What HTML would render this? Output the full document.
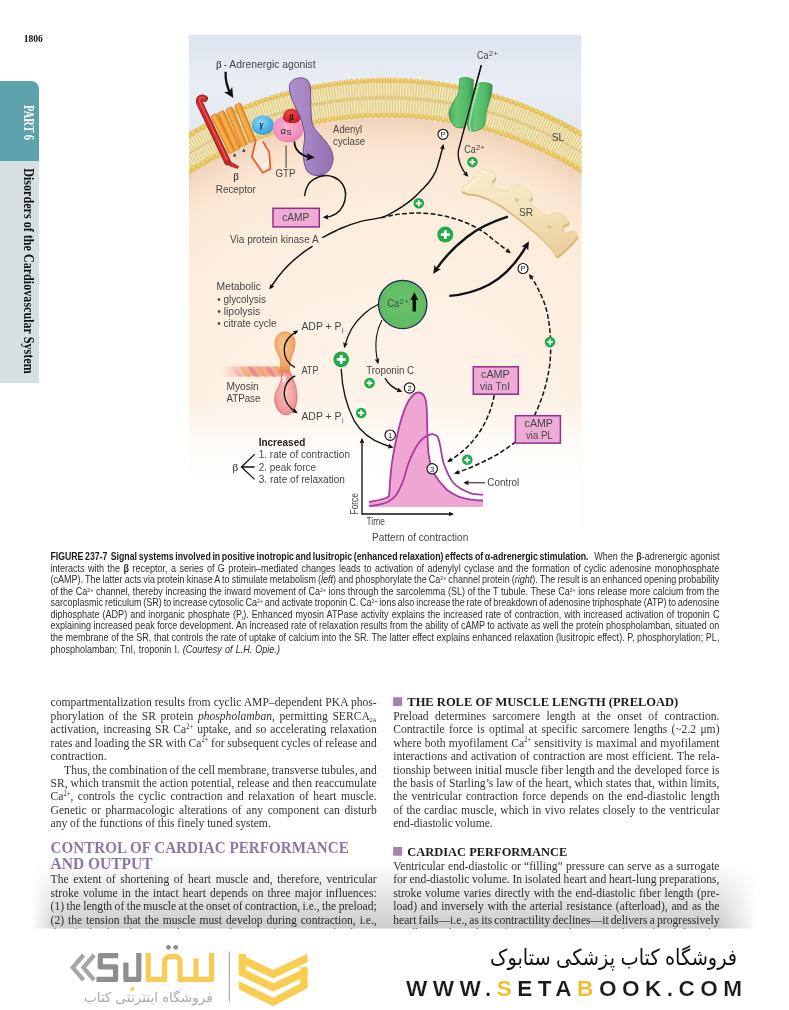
<!DOCTYPE html>
<html>
<head>
<meta charset="utf-8">
<title>Page 1806</title>
<style>
html,body{margin:0;padding:0;background:#fff;}
body{width:789px;height:1010px;position:relative;overflow:hidden;font-family:"Liberation Sans",sans-serif;}
.abs{position:absolute;}
svg{will-change:transform;}
svg text{white-space:pre;}
#pgnum{left:22px;top:32px;font:bold 9.5px "Liberation Serif",serif;color:#111;letter-spacing:.3px;}
#tabteal{left:0;top:81.3px;width:38.8px;height:81px;background:#5da2ac;border-top-right-radius:8px;}
#tabgray{left:0;top:161.3px;width:38.8px;height:221.7px;background:#d6e0e2;}
.vtxt{position:absolute;white-space:nowrap;transform-origin:0 0;transform:rotate(90deg);font-family:"Liberation Serif",serif;font-weight:bold;}
#part{left:34px;top:104px;color:#fff;font-size:11.5px;}
#disord{left:35px;top:167px;color:#111;font-size:12.5px;}
#fig{left:0;top:0;width:789px;height:560px;}
.cap{left:48px;width:694px;}
.ln{position:absolute;white-space:nowrap;transform-origin:0 0;}
</style>
</head>
<body>
<div id="tabteal" class="abs"></div>
<div id="tabgray" class="abs"></div>

<svg id="fig" class="abs" viewBox="0 0 789 560">
<defs>
<clipPath id="figclip"><rect x="189" y="35" width="392.5" height="500"/></clipPath>
<radialGradient id="cellg" gradientUnits="userSpaceOnUse" cx="386" cy="494.9" r="377">
<stop offset="0" stop-color="#fef4ea"/><stop offset="0.5" stop-color="#fdf1e5"/><stop offset="0.8" stop-color="#fcecdb"/><stop offset="0.9" stop-color="#fbe7d3"/><stop offset="0.95" stop-color="#f8e0ca"/><stop offset="1" stop-color="#efd3b9"/>
</radialGradient>
<linearGradient id="skyg" gradientUnits="userSpaceOnUse" x1="0" y1="35" x2="0" y2="140"><stop offset="0" stop-color="#dce4ef"/><stop offset="0.45" stop-color="#e9edf4"/><stop offset="1" stop-color="#e3e8f0"/></linearGradient>
<linearGradient id="fadeb" gradientUnits="userSpaceOnUse" x1="0" y1="400" x2="0" y2="480"><stop offset="0" stop-color="#fff" stop-opacity="0"/><stop offset="0.5" stop-color="#fff" stop-opacity="0.65"/><stop offset="1" stop-color="#fff" stop-opacity="1"/></linearGradient>
<marker id="ah" viewBox="0 0 10 10" refX="7" refY="5" markerWidth="5.8" markerHeight="5.4" orient="auto-start-reverse" markerUnits="userSpaceOnUse"><path d="M0 0.5L10 5L0 9.5L1.4 5z" fill="#111"/></marker>
<linearGradient id="purp" x1="0" y1="0" x2="1" y2="0"><stop offset="0" stop-color="#ae90cc"/><stop offset="0.5" stop-color="#a382c0"/><stop offset="1" stop-color="#9370b2"/></linearGradient>
<radialGradient id="myo1" cx="0.45" cy="0.35" r="0.65"><stop offset="0" stop-color="#f8c690"/><stop offset="0.7" stop-color="#f1a866"/><stop offset="1" stop-color="#e48e4a"/></radialGradient>
<radialGradient id="myo2" cx="0.5" cy="0.5" r="0.6"><stop offset="0" stop-color="#f8c2be"/><stop offset="0.7" stop-color="#f09c9a"/><stop offset="1" stop-color="#e27678"/></radialGradient>
<marker id="ahc" viewBox="0 0 10 10" refX="6" refY="5" markerWidth="10" markerHeight="10" orient="auto-start-reverse" markerUnits="userSpaceOnUse"><path d="M0 0.2L10 5L0 9.8L2.4 5z" fill="#111"/></marker>
<marker id="ahb" viewBox="0 0 10 10" refX="6" refY="5" markerWidth="8.5" markerHeight="8.5" orient="auto-start-reverse" markerUnits="userSpaceOnUse"><path d="M0 0.4L10 5L0 9.6L2.4 5z" fill="#111"/></marker>
<radialGradient id="gam" cx="0.4" cy="0.35" r="0.7"><stop offset="0" stop-color="#8ed6f7"/><stop offset="0.6" stop-color="#4fb4ea"/><stop offset="1" stop-color="#3a96d4"/></radialGradient>
<radialGradient id="alp" cx="0.45" cy="0.4" r="0.7"><stop offset="0" stop-color="#f9b3d4"/><stop offset="0.7" stop-color="#f08cbd"/><stop offset="1" stop-color="#e070a8"/></radialGradient>
<radialGradient id="bet" cx="0.4" cy="0.35" r="0.7"><stop offset="0" stop-color="#ee4a44"/><stop offset="1" stop-color="#c41d22"/></radialGradient>
<linearGradient id="cyl" x1="0" y1="0" x2="1" y2="0"><stop offset="0" stop-color="#e98a22"/><stop offset="0.35" stop-color="#fbb552"/><stop offset="0.75" stop-color="#f39a30"/><stop offset="1" stop-color="#d97a1c"/></linearGradient>
<linearGradient id="grn" x1="0" y1="0" x2="1" y2="0"><stop offset="0" stop-color="#44a659"/><stop offset="0.3" stop-color="#66c878"/><stop offset="0.75" stop-color="#4fb864"/><stop offset="1" stop-color="#35934b"/></linearGradient>
<linearGradient id="srg" x1="0.3" y1="0" x2="0.55" y2="1"><stop offset="0" stop-color="#f8ebcb"/><stop offset="0.55" stop-color="#f4e2b9"/><stop offset="1" stop-color="#e9cf9c"/></linearGradient>
<radialGradient id="cag" cx="0.5" cy="0.45" r="0.6"><stop offset="0" stop-color="#6cc46c"/><stop offset="1" stop-color="#5cb860"/></radialGradient>
<linearGradient id="ropef" gradientUnits="userSpaceOnUse" x1="222" y1="0" x2="250" y2="0"><stop offset="0" stop-color="#fff" stop-opacity="1"/><stop offset="1" stop-color="#fff" stop-opacity="0"/></linearGradient>
<mask id="ropem"><rect x="200" y="350" width="100" height="40" fill="#fff"/><rect x="200" y="350" width="50" height="40" fill="url(#ropemg)"/></mask>
<linearGradient id="ropemg" gradientUnits="userSpaceOnUse" x1="222" y1="0" x2="250" y2="0"><stop offset="0" stop-color="#000"/><stop offset="1" stop-color="#fff"/></linearGradient>
</defs>
<g clip-path="url(#figclip)">
<rect x="189" y="35" width="392.5" height="160" fill="url(#skyg)"/>
<circle cx="386.0" cy="494.9" r="377.0" fill="url(#cellg)"/>
<path d="M175 162.28A377.0 377.0 0 0 1 595 160.94" fill="none" stroke="#e2ce8b" stroke-width="37"/>
<path d="M175 153.78A377.0 377.0 0 0 1 595 152.44" fill="none" stroke="#f5ebc2" stroke-width="13" stroke-dasharray="1.35 1.45"/>
<path d="M175 170.78A377.0 377.0 0 0 1 595 169.44" fill="none" stroke="#f5ebc2" stroke-width="13" stroke-dasharray="1.35 1.45" stroke-dashoffset="1.3"/>
<path d="M175 162.28A377.0 377.0 0 0 1 595 160.94" fill="none" stroke="#dfc982" stroke-width="1.6"/>
<path d="M175 144.68A377.0 377.0 0 0 1 595 143.34" fill="none" stroke="#e6bf56" stroke-width="5.2" stroke-linecap="round" stroke-dasharray="0.01 5.4"/>
<path d="M175 143.98A377.0 377.0 0 0 1 595 142.64" fill="none" stroke="#f3d982" stroke-width="2.3" stroke-linecap="round" stroke-dasharray="0.01 5.4"/>
<path d="M175 179.88A377.0 377.0 0 0 1 595 178.54" fill="none" stroke="#e6bf56" stroke-width="5.2" stroke-linecap="round" stroke-dasharray="0.01 5.4"/>
<path d="M175 179.18A377.0 377.0 0 0 1 595 177.84" fill="none" stroke="#f3d982" stroke-width="2.3" stroke-linecap="round" stroke-dasharray="0.01 5.4"/>
<rect x="189" y="395" width="392.5" height="141" fill="url(#fadeb)"/>
<path d="M233 156.5l1.6-3.2 1.8 3.2z M242.2 151.8l1.6-3.2 1.8 3.2z" fill="#333"/>
<path d="M256 140L251.9 156.7L262.8 172.7L270.4 168.9L269.2 152.1L262.8 141.5" fill="#fff" fill-opacity="0.35" stroke="#e8602c" stroke-width="1.8" stroke-linejoin="round"/>
<g transform="translate(213.6 114.6) rotate(-26.4)"><rect x="-3.3" y="0" width="6.6" height="42.2" rx="1.6" fill="url(#cyl)" stroke="#c9701a" stroke-width="0.5"/></g>
<g transform="translate(220.7 111.6) rotate(-24.0)"><rect x="-3.3" y="0" width="6.6" height="41.6" rx="1.6" fill="url(#cyl)" stroke="#c9701a" stroke-width="0.5"/></g>
<g transform="translate(228.8 107.8) rotate(-22.4)"><rect x="-3.3" y="0" width="6.6" height="40.9" rx="1.6" fill="url(#cyl)" stroke="#c9701a" stroke-width="0.5"/></g>
<g transform="translate(237.4 104.0) rotate(-22.4)"><rect x="-3.3" y="0" width="6.6" height="40.4" rx="1.6" fill="url(#cyl)" stroke="#c9701a" stroke-width="0.5"/></g>
<path d="M204.6 98.6C200.6 96.6 198.4 99 199.6 103L227.6 162" fill="none" stroke="#8f1a1e" stroke-width="6.6" stroke-linecap="round"/>
<path d="M204.6 98.6C200.6 96.6 198.4 99 199.6 103L227.6 162" fill="none" stroke="#cc2a2e" stroke-width="5.2" stroke-linecap="round"/>
<path d="M204 97.8C200.6 96.3 198.8 98.4 199.8 102L227 159.6" fill="none" stroke="#e4514f" stroke-width="1.6" stroke-linecap="round"/>
<path d="M228 160.5L238.8 166.6L237.6 168.4L229.5 165.8z" fill="#cc2a2e" stroke="#8f1a1e" stroke-width="0.6"/>
<ellipse cx="262.8" cy="125.2" rx="11" ry="9.9" fill="url(#gam)"/>
<path d="M273 128C273 120 281 115.5 289 116.8C297 117.5 303.5 122 303 130C302.5 138 295 142.8 287 142.2C279 141.8 273 136 273 128z" fill="url(#alp)"/>
<path d="M283 117.5C283 112 287.5 108.6 292 108.8C297 109 301 112.5 300.8 117.5C300.5 121.5 297 123.4 292.5 123C287.5 123 283 121.5 283 117.5z" fill="url(#bet)"/>
<path d="M300.1 77.9C306 77.5 310.3 81 310.5 88C310.8 98 310.6 110 311.5 120.2C312.5 127 315.5 130 319.1 133.9C324 139.5 329.5 145 331.3 150.6C333.5 156 333.6 159 332.5 162.8C331 168.5 329 171.5 325.2 173.4C321 175.5 317 176 313 174.9C308.5 173.5 306.5 171 305.4 167.3C303.8 162 303 157 303.1 152.1C303.2 146 305 141 304.6 135.4C304.2 129 302.5 124 300.8 118.7C298.5 112 294.5 106.5 292.5 100.4C290.5 95 289.2 91 289.4 86.7C289.6 81.5 294 78 300.1 77.9z" fill="url(#purp)" stroke="#6b3f92" stroke-width="0.9"/>
<path d="M294.4 141.5C294.5 150 301 156.5 311.5 157.2" fill="none" stroke="#111" stroke-width="1.8" marker-end="url(#ahb)"/>
<path d="M286.1 145.3V168.1" stroke="#222" stroke-width="0.9"/>
<path d="M225.6 71.8C225.2 80 227.2 88 231.2 94.6" fill="none" stroke="#111" stroke-width="2.3" marker-end="url(#ahc)"/>
<path d="M304.5 196.1C305.5 188 309 182 313.6 179.3C320 175.3 327 174.5 333.5 177C341 180 345.8 187 345.6 194.5C345.4 203 341.5 210 335.9 213.8C332.5 216 328.5 217 324.5 217.3" fill="none" stroke="#111" stroke-width="1.45" marker-end="url(#ah)"/>
<path d="M322.3 237.7C325.4 236.2 334.2 231.2 340.6 228.5C347.0 225.8 354.8 223.1 360.9 221.4C367.0 219.7 372.7 219.4 377.1 218.4C381.5 217.4 383.1 217.3 387.2 215.4C391.2 213.5 397.0 210.1 401.4 207.2C405.8 204.3 410.2 201.0 413.6 198.1C417.0 195.2 419.1 192.8 421.7 190.0C424.3 187.2 427.2 184.6 429.5 181.5C431.8 178.4 434.0 175.0 435.6 171.5C437.2 168.0 437.9 164.8 439.2 160.5C440.5 156.2 442.5 148.0 443.2 145.5" fill="none" stroke="#111" stroke-width="1.45" marker-end="url(#ah)"/>
<path d="M312.6 246.2C300 254 288 264 278 277C275 281 272.5 285 270.2 288.2" fill="none" stroke="#111" stroke-width="1.45" marker-end="url(#ah)"/>
<path d="M381.2 217.8C397 213.5 413 212.3 428.7 213.5C443 215 456 218.5 466.7 223C477 227.5 486 233 492.1 238.8C499 244 505 249 509.6 252.2" fill="none" stroke="#111" stroke-width="1.5" stroke-dasharray="4.8 2.3" marker-end="url(#ah)"/>
<path d="M481.3 65.2L458.5 150C457.8 155 458.5 160 460.5 165C462 169 464.5 172.5 467.2 175.6" fill="none" stroke="#111" stroke-width="1.35" marker-end="url(#ah)"/>
<path d="M507.9 216.6C491 222 477 229 466.7 237.2C454 247 443 259 435 271.2" fill="none" stroke="#111" stroke-width="2.4" marker-end="url(#ahb)"/>
<path d="M449.3 295.9C463 295 477 291 488.9 284.8C505 276 518 261 527.3 244.2" fill="none" stroke="#111" stroke-width="2.4" marker-end="url(#ahb)"/>
<path d="M534.4 415.7C541.5 401 547.5 383 550 362.7C551.5 345 550.5 330 547.6 314.8C545.5 305 542.5 297.5 539 290.8C536 284.5 533 279.5 529.8 275.2" fill="none" stroke="#111" stroke-width="1.5" stroke-dasharray="4.8 2.3" marker-end="url(#ah)"/>
<path d="M494.3 395.2C491 412 484 428 472 442C465 450 456.5 456.5 448.6 461.2" fill="none" stroke="#111" stroke-width="1.5" stroke-dasharray="4.8 2.3" marker-end="url(#ah)"/>
<path d="M516 441.6C509.5 446.5 503 451 496.4 455C483 462.5 469 468.5 455.6 473.2" fill="none" stroke="#111" stroke-width="1.5" stroke-dasharray="4.8 2.3" marker-end="url(#ah)"/>
<path d="M379 304C369 308.5 358 318 351.5 329C348.5 334.5 346 341 344.6 346.6" fill="none" stroke="#111" stroke-width="1.35" marker-end="url(#ah)"/>
<path d="M341.2 368.8C342 388 346 405 354.2 420.8C362 434 376 443 392 447" fill="none" stroke="#111" stroke-width="1.35" marker-end="url(#ah)"/>
<path d="M382 320C378.8 326 377.2 331 376.4 337C375.4 346 376 355 377.9 362.6" fill="none" stroke="#111" stroke-width="1.1" marker-end="url(#ah)"/>
<path d="M385 378.1C388 383.5 393.5 388.5 400.8 391.2" fill="none" stroke="#111" stroke-width="1.35" marker-end="url(#ah)"/>
<path d="M485.1 482.8H465" fill="none" stroke="#111" stroke-width="1" marker-end="url(#ah)"/>
<path d="M459.8 78.5C464 76.5 470 77.5 473.7 79.8C473 92 471.5 104 469.5 116C468.5 122 466 126 463 127.6C458 128.6 454 127 452.2 123.5C449.5 119 448.5 116 449 112.1C450 106 455 100 457.9 94.4C459.5 89 459.3 84 459.8 78.5z" fill="url(#grn)" stroke="#2c8040" stroke-width="0.6"/>
<path d="M478.2 83.6C482 81.8 488.5 82.5 492.1 84.9C492.5 90 491 96 489.6 100.7C488 106 486.5 111 485.8 115.9C485.5 121 485 124.5 483.2 127.3C480 130.5 475 131.6 470.6 131.1C468 130 467.5 127 468 123C470 110 473 97 478.2 83.6z" fill="url(#grn)" stroke="#2c8040" stroke-width="0.6"/>
<path d="M478.6 84.5C474.5 97 471.5 110 469.6 123C469.2 126 469.6 128.6 470.8 130.4" fill="none" stroke="#9be0a6" stroke-width="1.8" stroke-linecap="round"/>
<path d="M481.3 65.2L464 129.5" fill="none" stroke="#111" stroke-width="1.2"/>
<path d="M461.6 188.8C462.5 185.7 465.0 186.2 469.8 181.4C474.6 176.6 475.5 173.8 479.7 170.7C483.9 167.6 481.3 168.6 485.5 169.9C489.7 171.2 493.6 172.2 495.4 175.7C497.2 179.2 491.2 179.4 492.1 183.1C493.0 186.8 494.5 187.7 498.7 189.7C502.9 191.7 504.0 191.4 507.7 190.5C511.4 189.6 509.8 187.9 512.7 186.4C515.6 184.9 514.5 183.8 518.4 184.7C522.3 185.6 523.8 186.6 527.5 189.7C531.2 192.8 531.7 193.1 532.4 196.2C533.1 199.3 528.7 197.7 530.0 201.2C531.3 204.7 532.8 205.7 537.4 209.4C542.0 213.1 542.5 214.3 547.3 215.2C552.1 216.1 551.6 212.9 555.5 212.7C559.4 212.5 558.6 212.0 562.1 214.4C565.6 216.8 568.3 218.7 568.7 221.8C569.1 224.9 564.8 223.0 563.7 225.9C562.6 228.8 562.2 231.2 564.6 232.5C567.0 233.8 569.5 230.4 572.8 230.8C576.1 231.2 576.2 231.9 576.9 234.1C577.6 236.3 579.7 233.8 575.3 239.1C570.9 244.4 565.7 249.7 560.4 253.9C555.1 258.1 557.7 255.8 555.5 254.7C553.3 253.6 556.1 254.4 552.2 249.8C548.3 245.2 547.7 244.2 540.7 237.4C533.7 230.6 533.7 230.9 525.8 224.3C517.9 217.7 518.9 218.4 511.0 212.7C503.1 207.0 504.5 207.4 496.2 202.8C487.9 198.2 487.6 198.0 479.7 195.4C471.8 192.8 471.3 194.7 466.5 192.9C461.7 191.1 460.7 191.9 461.6 188.8z" transform="translate(0.6 2.2)" fill="#d4b47a"/>
<path d="M461.6 188.8C462.5 185.7 465.0 186.2 469.8 181.4C474.6 176.6 475.5 173.8 479.7 170.7C483.9 167.6 481.3 168.6 485.5 169.9C489.7 171.2 493.6 172.2 495.4 175.7C497.2 179.2 491.2 179.4 492.1 183.1C493.0 186.8 494.5 187.7 498.7 189.7C502.9 191.7 504.0 191.4 507.7 190.5C511.4 189.6 509.8 187.9 512.7 186.4C515.6 184.9 514.5 183.8 518.4 184.7C522.3 185.6 523.8 186.6 527.5 189.7C531.2 192.8 531.7 193.1 532.4 196.2C533.1 199.3 528.7 197.7 530.0 201.2C531.3 204.7 532.8 205.7 537.4 209.4C542.0 213.1 542.5 214.3 547.3 215.2C552.1 216.1 551.6 212.9 555.5 212.7C559.4 212.5 558.6 212.0 562.1 214.4C565.6 216.8 568.3 218.7 568.7 221.8C569.1 224.9 564.8 223.0 563.7 225.9C562.6 228.8 562.2 231.2 564.6 232.5C567.0 233.8 569.5 230.4 572.8 230.8C576.1 231.2 576.2 231.9 576.9 234.1C577.6 236.3 579.7 233.8 575.3 239.1C570.9 244.4 565.7 249.7 560.4 253.9C555.1 258.1 557.7 255.8 555.5 254.7C553.3 253.6 556.1 254.4 552.2 249.8C548.3 245.2 547.7 244.2 540.7 237.4C533.7 230.6 533.7 230.9 525.8 224.3C517.9 217.7 518.9 218.4 511.0 212.7C503.1 207.0 504.5 207.4 496.2 202.8C487.9 198.2 487.6 198.0 479.7 195.4C471.8 192.8 471.3 194.7 466.5 192.9C461.7 191.1 460.7 191.9 461.6 188.8z" fill="url(#srg)" stroke="#e4cd9c" stroke-width="0.6"/>
<path d="M514.6 197.8L519.6 199.6L516.4 202.4z M547.2 225.2L552.4 226.4L549.6 229.4z" fill="#dcc18c"/>
<path d="M466 189.5C472 184 478 177 482.5 172.8C486 171 490 172.5 492.5 176" fill="none" stroke="#fbf1d8" stroke-width="1.6" stroke-linecap="round"/>
<circle cx="418.8" cy="203.3" r="5.3" fill="#22ab4a"/><path d="M415.83 203.3H421.77M418.8 200.33V206.27" stroke="#fff" stroke-width="1.80"/>
<circle cx="445.3" cy="234.6" r="8" fill="#22ab4a"/><path d="M440.82 234.6H449.78M445.3 230.12V239.08" stroke="#fff" stroke-width="2.72"/>
<circle cx="472.4" cy="162.1" r="5.3" fill="#22ab4a"/><path d="M469.43 162.1H475.37M472.4 159.13V165.07" stroke="#fff" stroke-width="1.80"/>
<circle cx="341.2" cy="359.3" r="7.9" fill="#22ab4a"/><path d="M336.78 359.3H345.62M341.2 354.88V363.72" stroke="#fff" stroke-width="2.69"/>
<circle cx="361.2" cy="413" r="5.3" fill="#22ab4a"/><path d="M358.23 413H364.17M361.2 410.03V415.97" stroke="#fff" stroke-width="1.80"/>
<circle cx="369.5" cy="383.1" r="5.3" fill="#22ab4a"/><path d="M366.53 383.1H372.47M369.5 380.13V386.07" stroke="#fff" stroke-width="1.80"/>
<circle cx="550" cy="342.1" r="5.3" fill="#22ab4a"/><path d="M547.03 342.1H552.97M550 339.13V345.07" stroke="#fff" stroke-width="1.80"/>
<circle cx="467.3" cy="459.8" r="5.3" fill="#22ab4a"/><path d="M464.33 459.8H470.27M467.3 456.83V462.77" stroke="#fff" stroke-width="1.80"/>
<circle cx="443" cy="134.3" r="5.0" fill="#fff" stroke="#111" stroke-width="1.15"/><text x="443" y="137.0" font-family="Liberation Sans,sans-serif" font-size="7.6" text-anchor="middle" fill="#222">P</text>
<circle cx="523" cy="268.5" r="5.0" fill="#fff" stroke="#111" stroke-width="1.15"/><text x="523" y="271.2" font-family="Liberation Sans,sans-serif" font-size="7.6" text-anchor="middle" fill="#222">P</text>
<circle cx="402.7" cy="304.5" r="24.2" fill="url(#cag)" stroke="#1c2c5c" stroke-width="1.3"/>
<path d="M414.3 311.4V298.5" stroke="#111" stroke-width="3.5"/><path d="M410.4 300L414.3 292L418.2 300z" fill="#111"/>
<rect x="273" y="208.3" width="46.3" height="18.6" fill="#eeabd6" stroke="#922c8e" stroke-width="1.5"/>
<rect x="473.3" y="366.8" width="45" height="27.4" fill="#eeabd6" stroke="#922c8e" stroke-width="1.5"/>
<rect x="515.4" y="415.7" width="45" height="27.4" fill="#eeabd6" stroke="#922c8e" stroke-width="1.5"/>
<path d="M369.0 502.0C370.7 501.7 375.9 500.8 379.0 500.0C382.1 499.2 386.0 498.0 387.7 497.2C389.4 496.4 388.9 495.5 389.1 495.1C389.6 489.8 390.3 474.3 391.9 463.2C393.5 452.1 396.5 438.0 398.8 428.5C401.1 419.0 403.5 411.9 405.8 406.4C408.1 400.9 410.5 397.6 412.7 395.3C414.9 393.0 416.9 392.3 418.9 392.5C420.9 392.7 423.2 394.1 424.5 396.6C425.8 399.1 426.1 401.2 426.6 407.7C427.1 414.2 427.1 427.6 427.5 435.5C427.9 443.4 427.9 449.1 428.7 454.9C429.5 460.7 430.8 466.4 432.1 470.2C433.5 474.0 435.4 475.5 436.8 477.6C438.2 479.7 438.7 480.6 440.4 482.6C442.1 484.6 444.8 487.9 446.9 489.7C449.0 491.5 450.7 492.4 453.0 493.7C455.3 495.0 457.8 496.3 460.8 497.3C463.8 498.3 467.3 499.1 471.0 499.6C474.7 500.1 481.0 500.4 483.0 500.5V506.9H369z" fill="#f0a6d3"/>
<path d="M369.0 502.0C370.7 501.7 375.9 500.8 379.0 500.0C382.1 499.2 386.0 498.0 387.7 497.2C389.4 496.4 388.9 495.5 389.1 495.1C389.6 489.8 390.3 474.3 391.9 463.2C393.5 452.1 396.5 438.0 398.8 428.5C401.1 419.0 403.5 411.9 405.8 406.4C408.1 400.9 410.5 397.6 412.7 395.3C414.9 393.0 416.9 392.3 418.9 392.5C420.9 392.7 423.2 394.1 424.5 396.6C425.8 399.1 426.1 401.2 426.6 407.7C427.1 414.2 427.1 427.6 427.5 435.5C427.9 443.4 427.9 449.1 428.7 454.9C429.5 460.7 430.8 466.4 432.1 470.2C433.5 474.0 435.4 475.5 436.8 477.6C438.2 479.7 438.7 480.6 440.4 482.6C442.1 484.6 444.8 487.9 446.9 489.7C449.0 491.5 450.7 492.4 453.0 493.7C455.3 495.0 457.8 496.3 460.8 497.3C463.8 498.3 467.3 499.1 471.0 499.6C474.7 500.1 481.0 500.4 483.0 500.5" fill="none" stroke="#a83aa0" stroke-width="1.8" stroke-linejoin="round"/>
<path d="M369.0 506.2C370.7 505.9 375.9 505.3 379.0 504.6C382.1 503.9 384.8 503.6 387.7 502.0C390.6 500.4 393.6 498.6 396.1 495.1C398.7 491.6 400.9 486.5 403.0 481.2C405.1 475.9 406.4 468.7 408.5 463.2C410.6 457.7 413.2 452.1 415.5 448.0C417.8 443.9 420.1 441.1 422.4 438.9C424.7 436.7 427.4 435.6 429.3 434.8C431.2 434.1 432.1 434.0 433.5 434.4C434.9 434.8 436.6 434.9 437.7 436.9C438.8 438.9 439.5 442.5 440.4 446.6C441.3 450.8 441.8 457.0 443.2 461.8C444.6 466.6 447.1 472.2 448.8 475.7C450.5 479.2 451.6 480.9 453.5 483.0C455.4 485.1 457.1 486.5 460.0 488.2C462.9 489.9 467.2 492.2 471.0 493.3C474.8 494.4 481.0 494.6 483.0 494.8" fill="none" stroke="#a83aa0" stroke-width="1.8"/>
<path d="M362 514H452.5" fill="none" stroke="#111" stroke-width="1.35" marker-end="url(#ah)"/><path d="M362 514.5V439.5" fill="none" stroke="#111" stroke-width="1.35" marker-end="url(#ah)"/>
<circle cx="409.5" cy="388" r="5.2" fill="#fff" stroke="#111" stroke-width="1.15"/><text x="409.5" y="390.7" font-family="Liberation Sans,sans-serif" font-size="7.6" text-anchor="middle" fill="#222">2</text>
<circle cx="390.2" cy="435.2" r="5.2" fill="#fff" stroke="#111" stroke-width="1.15"/><text x="390.2" y="437.9" font-family="Liberation Sans,sans-serif" font-size="7.6" text-anchor="middle" fill="#222">1</text>
<circle cx="432.2" cy="468.8" r="5.2" fill="#fff" stroke="#111" stroke-width="1.15"/><text x="432.2" y="471.5" font-family="Liberation Sans,sans-serif" font-size="7.6" text-anchor="middle" fill="#222">3</text>
<g mask="url(#ropem)">
<path d="M222 366.4H283V376.6H222z" fill="#f3ae94"/>
<path d="M222.0 366.2C226.5 366 230.0 370 233.0 376.8C228.5 377 225.0 373.5 222.0 366.2z" fill="#f2a46c"/>
<path d="M230.6 366.2C235.1 366 238.6 370 241.6 376.8C237.1 377 233.6 373.5 230.6 366.2z" fill="#ea8a92"/>
<path d="M239.2 366.2C243.7 366 247.2 370 250.2 376.8C245.7 377 242.2 373.5 239.2 366.2z" fill="#f2a46c"/>
<path d="M247.8 366.2C252.3 366 255.8 370 258.8 376.8C254.3 377 250.8 373.5 247.8 366.2z" fill="#ea8a92"/>
<path d="M256.4 366.2C260.9 366 264.4 370 267.4 376.8C262.9 377 259.4 373.5 256.4 366.2z" fill="#f2a46c"/>
<path d="M265.0 366.2C269.5 366 273.0 370 276.0 376.8C271.5 377 268.0 373.5 265.0 366.2z" fill="#ea8a92"/>
<path d="M273.6 366.2C278.1 366 281.6 370 284.6 376.8C280.1 377 276.6 373.5 273.6 366.2z" fill="#f2a46c"/>
<path d="M282.2 366.2C286.7 366 290.2 370 293.2 376.8C288.7 377 285.2 373.5 282.2 366.2z" fill="#ea8a92"/>
<path d="M222 366.4H283" stroke="#f8c8b0" stroke-width="1"/>
</g>
<path d="M285.2 332C291.5 332 295.5 337 295 344C294.6 350 292 355 290.5 360C289.5 364.5 289 368 289.5 371.5L279 372.5C281 368 281.5 363 280 358C277 352 274.8 348 275 343C275.3 336.5 279.5 332 285.2 332z" fill="url(#myo1)" stroke="#de8a44" stroke-width="0.8"/>
<path d="M281.5 371C286 370.5 290 373 292.5 378C295.5 384 297.2 391 297 398C296.8 407 292.5 414.5 286.5 414.8C280.5 415 275.5 408.5 274.8 401C274.2 394.5 277 389.5 279.5 384.5C281.5 380.5 281.8 376 281.5 371z" fill="url(#myo2)" stroke="#dc686a" stroke-width="0.8"/>
<ellipse cx="284" cy="379" rx="2" ry="3.4" fill="#fde4e0"/>
<path d="M294.9 367.4C288 364 284 357 284.2 349.1C284.5 341 290 335 297 331.3" fill="none" stroke="#111" stroke-width="1.35" marker-end="url(#ah)"/>
<path d="M295.3 375.9C288 379 284 386 284.2 393.7C284.5 401.5 289.5 408 296.3 412.3" fill="none" stroke="#111" stroke-width="1.35" marker-end="url(#ah)"/>
<path d="M254.6 454.4L241.4 467L254.6 479.4M241.4 467H254.6" fill="none" stroke="#111" stroke-width="1.3"/>
</g>
<text x="216" y="67.8" font-family="Liberation Serif,serif" font-size="11" fill="#222">β</text>
<text x="223.6" y="67.6" font-family="Liberation Sans,sans-serif" font-size="10.2" fill="#464646" textLength="92" lengthAdjust="spacingAndGlyphs" >- Adrenergic agonist</text>
<text x="333.1" y="133.1" font-family="Liberation Sans,sans-serif" font-size="10.2" fill="#464646" textLength="29" lengthAdjust="spacingAndGlyphs" >Adenyl</text>
<text x="333.1" y="145.3" font-family="Liberation Sans,sans-serif" font-size="10.2" fill="#464646" textLength="32" lengthAdjust="spacingAndGlyphs" >cyclase</text>
<text x="275.4" y="177.2" font-family="Liberation Sans,sans-serif" font-size="10.2" fill="#464646" textLength="20" lengthAdjust="spacingAndGlyphs" >GTP</text>
<text x="233.3" y="179.5" font-family="Liberation Serif,serif" font-size="11" fill="#222">β</text>
<text x="215.8" y="192.5" font-family="Liberation Sans,sans-serif" font-size="10.2" fill="#464646" textLength="40" lengthAdjust="spacingAndGlyphs" >Receptor</text>
<text x="282.2" y="220.9" font-family="Liberation Sans,sans-serif" font-size="10.2" fill="#464646" textLength="27" lengthAdjust="spacingAndGlyphs" >cAMP</text>
<text x="230" y="242.8" font-family="Liberation Sans,sans-serif" font-size="10.2" fill="#464646" textLength="88.7" lengthAdjust="spacingAndGlyphs" >Via protein kinase A</text>
<text x="477.1" y="58.9" font-family="Liberation Sans,sans-serif" font-size="10.2" fill="#464646" textLength="11.5" lengthAdjust="spacingAndGlyphs" >Ca</text>
<text x="488.8" y="55.8" font-family="Liberation Sans,sans-serif" font-size="7.8" fill="#444">2+</text>
<text x="464.2" y="153.3" font-family="Liberation Sans,sans-serif" font-size="10.2" fill="#464646" textLength="11.5" lengthAdjust="spacingAndGlyphs" >Ca</text>
<text x="475.9" y="150.2" font-family="Liberation Sans,sans-serif" font-size="7.8" fill="#444">2+</text>
<text x="519" y="216" font-family="Liberation Sans,sans-serif" font-size="10.2" fill="#464646" textLength="14" lengthAdjust="spacingAndGlyphs" >SR</text>
<text x="551.7" y="140.6" font-family="Liberation Sans,sans-serif" font-size="10.2" fill="#464646" textLength="12.5" lengthAdjust="spacingAndGlyphs" >SL</text>
<text x="387.3" y="306.6" font-family="Liberation Sans,sans-serif" font-size="10.2" fill="#464646" textLength="12" lengthAdjust="spacingAndGlyphs" fill="#2a5a36">Ca</text>
<text x="399.6" y="303.6" font-family="Liberation Sans,sans-serif" font-size="7.8" fill="#2a5a36">2+</text>
<text x="216.6" y="290.3" font-family="Liberation Sans,sans-serif" font-size="10.2" fill="#464646" textLength="44.3" lengthAdjust="spacingAndGlyphs" >Metabolic</text>
<text x="217.2" y="302.5" font-family="Liberation Sans,sans-serif" font-size="10.2" fill="#464646" textLength="48.7" lengthAdjust="spacingAndGlyphs" >• glycolysis</text>
<text x="217.2" y="315" font-family="Liberation Sans,sans-serif" font-size="10.2" fill="#464646" textLength="43" lengthAdjust="spacingAndGlyphs" >• lipolysis</text>
<text x="217.2" y="327.4" font-family="Liberation Sans,sans-serif" font-size="10.2" fill="#464646" textLength="59.5" lengthAdjust="spacingAndGlyphs" >• citrate cycle</text>
<text x="301.4" y="330.2" font-family="Liberation Sans,sans-serif" font-size="10.2" fill="#464646" textLength="40.2" lengthAdjust="spacingAndGlyphs" >ADP + P</text>
<text x="342" y="332.6" font-family="Liberation Sans,sans-serif" font-size="7" fill="#444">i</text>
<text x="301.4" y="373.9" font-family="Liberation Sans,sans-serif" font-size="10.2" fill="#464646" textLength="17.3" lengthAdjust="spacingAndGlyphs" >ATP</text>
<text x="301.4" y="420.1" font-family="Liberation Sans,sans-serif" font-size="10.2" fill="#464646" textLength="40.2" lengthAdjust="spacingAndGlyphs" >ADP + P</text>
<text x="342" y="422.5" font-family="Liberation Sans,sans-serif" font-size="7" fill="#444">i</text>
<text x="226.4" y="389.7" font-family="Liberation Sans,sans-serif" font-size="10.2" fill="#464646" textLength="32.4" lengthAdjust="spacingAndGlyphs" >Myosin</text>
<text x="226.4" y="401.8" font-family="Liberation Sans,sans-serif" font-size="10.2" fill="#464646" textLength="34" lengthAdjust="spacingAndGlyphs" >ATPase</text>
<text x="366.2" y="373.6" font-family="Liberation Sans,sans-serif" font-size="10.2" fill="#464646" textLength="47.9" lengthAdjust="spacingAndGlyphs" >Troponin C</text>
<text x="481" y="378" font-family="Liberation Sans,sans-serif" font-size="10.2" fill="#464646" textLength="28.8" lengthAdjust="spacingAndGlyphs" >cAMP</text>
<text x="480" y="390.2" font-family="Liberation Sans,sans-serif" font-size="10.2" fill="#464646" textLength="30" lengthAdjust="spacingAndGlyphs" >via TnI</text>
<text x="524.6" y="427" font-family="Liberation Sans,sans-serif" font-size="10.2" fill="#464646" textLength="28.2" lengthAdjust="spacingAndGlyphs" >cAMP</text>
<text x="526" y="439.2" font-family="Liberation Sans,sans-serif" font-size="10.2" fill="#464646" textLength="26.6" lengthAdjust="spacingAndGlyphs" >via PL</text>
<text x="487.3" y="485.6" font-family="Liberation Sans,sans-serif" font-size="10.2" fill="#464646" textLength="31.9" lengthAdjust="spacingAndGlyphs" >Control</text>
<text x="366.5" y="524.5" font-family="Liberation Sans,sans-serif" font-size="10.2" fill="#464646" textLength="18.3" lengthAdjust="spacingAndGlyphs" >Time</text>
<text x="372" y="541.2" font-family="Liberation Sans,sans-serif" font-size="10.2" fill="#464646" textLength="96.4" lengthAdjust="spacingAndGlyphs" >Pattern of contraction</text>
<text transform="translate(357.6 514.5) rotate(-90)" font-family="Liberation Sans,sans-serif" font-size="10.2" fill="#464646" textLength="21.5" lengthAdjust="spacingAndGlyphs">Force</text>
<text x="258.7" y="445.7" font-family="Liberation Sans,sans-serif" font-weight="bold" font-size="10.2" fill="#222" textLength="46.6" lengthAdjust="spacingAndGlyphs">Increased</text>
<text x="258.7" y="458.1" font-family="Liberation Sans,sans-serif" font-size="10.2" fill="#464646" textLength="91.3" lengthAdjust="spacingAndGlyphs" >1. rate of contraction</text>
<text x="258.7" y="470.6" font-family="Liberation Sans,sans-serif" font-size="10.2" fill="#464646" textLength="57.4" lengthAdjust="spacingAndGlyphs" >2. peak force</text>
<text x="258.7" y="482.8" font-family="Liberation Sans,sans-serif" font-size="10.2" fill="#464646" textLength="86.2" lengthAdjust="spacingAndGlyphs" >3. rate of relaxation</text>
<text x="232.5" y="470.6" font-family="Liberation Serif,serif" font-size="11" fill="#222">β</text>
<text x="259.6" y="128.4" font-family="Liberation Serif,serif" font-style="italic" font-weight="bold" font-size="9.5" fill="#123">γ</text>
<text x="280.5" y="133.5" font-family="Liberation Sans,sans-serif" font-size="9.5" fill="#222">α</text><text x="286.6" y="134.5" font-family="Liberation Sans,sans-serif" font-size="7.5" fill="#222">S</text>
<text x="289.3" y="120" font-family="Liberation Serif,serif" font-weight="bold" font-size="9" fill="#300">β</text>
</svg>

<svg class="abs" style="left:0;top:0" width="789" height="1010" viewBox="0 0 789 1010">
<g font-family="Liberation Sans,sans-serif" font-size="10.4" fill="#2e2e2e" xml:space="preserve">
<text transform="translate(50.4 560.20) scale(0.868 1)" word-spacing="-0.900" textLength="619.93" lengthAdjust="spacingAndGlyphs"><tspan font-weight="bold" fill="#1a1a1a">FIGURE 237-7  Signal systems involved in positive inotropic and lusitropic (enhanced relaxation) effects of α-adrenergic stimulation.</tspan></text>
<text transform="translate(594.2 560.20) scale(0.868 1)" word-spacing="0.523" textLength="144.24" lengthAdjust="spacingAndGlyphs">When the <tspan font-weight="bold">β</tspan>-adrenergic agonist</text>
<text transform="translate(50.4 571.74) scale(0.868 1)" word-spacing="1.090" textLength="770.74" lengthAdjust="spacingAndGlyphs">interacts with the <tspan font-weight="bold">β</tspan> receptor, a series of G protein–mediated changes leads to activation of adenylyl cyclase and the formation of cyclic adenosine monophosphate</text>
<text transform="translate(50.4 583.28) scale(0.868 1)" word-spacing="-0.458" textLength="770.74" lengthAdjust="spacingAndGlyphs">(cAMP). The latter acts via protein kinase A to stimulate metabolism (<tspan font-style="italic">left</tspan>) and phosphorylate the Ca<tspan font-size="6" dy="-3.2">2+</tspan><tspan dy="3.2"> </tspan>channel protein (<tspan font-style="italic">right</tspan>). The result is an enhanced opening probability</text>
<text transform="translate(50.4 594.82) scale(0.868 1)" word-spacing="0.168" textLength="770.74" lengthAdjust="spacingAndGlyphs">of the Ca<tspan font-size="6" dy="-3.2">2+</tspan><tspan dy="3.2"> </tspan>channel, thereby increasing the inward movement of Ca<tspan font-size="6" dy="-3.2">2+</tspan><tspan dy="3.2"> </tspan>ions through the sarcolemma (SL) of the T tubule. These Ca<tspan font-size="6" dy="-3.2">2+</tspan><tspan dy="3.2"> </tspan>ions release more calcium from the</text>
<text transform="translate(50.4 606.36) scale(0.868 1)" word-spacing="-0.745" textLength="770.74" lengthAdjust="spacingAndGlyphs">sarcoplasmic reticulum (SR) to increase cytosolic Ca<tspan font-size="6" dy="-3.2">2+</tspan><tspan dy="3.2"> </tspan>and activate troponin C. Ca<tspan font-size="6" dy="-3.2">2+</tspan><tspan dy="3.2"> </tspan>ions also increase the rate of breakdown of adenosine triphosphate (ATP) to adenosine</text>
<text transform="translate(50.4 617.90) scale(0.868 1)" word-spacing="0.616" textLength="770.74" lengthAdjust="spacingAndGlyphs">diphosphate (ADP) and inorganic phosphate (P<tspan font-size="6" dy="1.6">i</tspan><tspan dy="-1.6">). Enhanced myosin ATPase activity explains the increased rate of contraction, with increased activation of troponin C</tspan></text>
<text transform="translate(50.4 629.44) scale(0.868 1)" word-spacing="-0.006" textLength="770.74" lengthAdjust="spacingAndGlyphs">explaining increased peak force development. An increased rate of relaxation results from the ability of cAMP to activate as well the protein phospholamban, situated on</text>
<text transform="translate(50.4 640.98) scale(0.868 1)" word-spacing="0.061" textLength="770.74" lengthAdjust="spacingAndGlyphs">the membrane of the SR, that controls the rate of uptake of calcium into the SR. The latter effect explains enhanced relaxation (lusitropic effect). P, phosphorylation; PL,</text>
<text transform="translate(50.4 652.52) scale(0.868 1)" word-spacing="0.751" textLength="264.40" lengthAdjust="spacingAndGlyphs">phospholamban; TnI, troponin I. <tspan font-style="italic">(Courtesy of L.H. Opie.)</tspan></text>
</g>
<g font-family="Liberation Serif,serif" font-size="13.3" fill="#333" xml:space="preserve">
<text transform="translate(50.6 706.40) scale(0.872 1)" word-spacing="0.164" textLength="373.97" lengthAdjust="spacingAndGlyphs">compartmentalization results from cyclic AMP–dependent PKA phos-</text>
<text transform="translate(50.6 719.83) scale(0.872 1)" word-spacing="1.946" textLength="373.97" lengthAdjust="spacingAndGlyphs">phorylation of the SR protein <tspan font-style="italic">phospholamban</tspan>, permitting SERCA<tspan font-size="6.5" dy="2.6">2A</tspan></text>
<text transform="translate(50.6 733.26) scale(0.872 1)" word-spacing="1.348" textLength="373.97" lengthAdjust="spacingAndGlyphs">activation, increasing SR Ca<tspan font-size="7.5" dy="-4.2">2+</tspan><tspan dy="4.2"> </tspan>uptake, and so accelerating relaxation</text>
<text transform="translate(50.6 746.69) scale(0.872 1)" word-spacing="-0.336" textLength="373.97" lengthAdjust="spacingAndGlyphs">rates and loading the SR with Ca<tspan font-size="7.5" dy="-4.2">2+</tspan><tspan dy="4.2"> </tspan>for subsequent cycles of release and</text>
<text transform="translate(50.6 760.12) scale(0.872 1)" word-spacing="0.000" textLength="64.22" lengthAdjust="spacingAndGlyphs">contraction.</text>
<text transform="translate(64.1 773.55) scale(0.872 1)" word-spacing="-0.540" textLength="358.49" lengthAdjust="spacingAndGlyphs">Thus, the combination of the cell membrane, transverse tubules, and</text>
<text transform="translate(50.6 786.98) scale(0.872 1)" word-spacing="-0.007" textLength="373.97" lengthAdjust="spacingAndGlyphs">SR, which transmit the action potential, release and then reaccumulate</text>
<text transform="translate(50.6 800.41) scale(0.872 1)" word-spacing="1.812" textLength="373.97" lengthAdjust="spacingAndGlyphs">Ca<tspan font-size="7.5" dy="-4.2">2+</tspan><tspan dy="4.2">, controls the cyclic contraction and relaxation of heart muscle.</tspan></text>
<text transform="translate(50.6 813.84) scale(0.872 1)" word-spacing="1.976" textLength="373.97" lengthAdjust="spacingAndGlyphs">Genetic or pharmacologic alterations of any component can disturb</text>
<text transform="translate(50.6 827.27) scale(0.872 1)" word-spacing="-0.149" textLength="252.52" lengthAdjust="spacingAndGlyphs">any of the functions of this finely tuned system.</text>
<text transform="translate(50.6 883.20) scale(0.872 1)" word-spacing="1.882" textLength="373.97" lengthAdjust="spacingAndGlyphs">The extent of shortening of heart muscle and, therefore, ventricular</text>
<text transform="translate(50.6 896.70) scale(0.872 1)" word-spacing="1.284" textLength="373.97" lengthAdjust="spacingAndGlyphs">stroke volume in the intact heart depends on three major influences:</text>
<text transform="translate(50.6 910.10) scale(0.872 1)" word-spacing="-0.517" textLength="373.97" lengthAdjust="spacingAndGlyphs">(1) the length of the muscle at the onset of contraction, i.e., the preload;</text>
<text transform="translate(50.6 923.60) scale(0.872 1)" word-spacing="1.134" textLength="373.97" lengthAdjust="spacingAndGlyphs">(2) the tension that the muscle must develop during contraction, i.e.,</text>
<text transform="translate(50.6 937.10) scale(0.872 1)" word-spacing="0.412" textLength="373.97" lengthAdjust="spacingAndGlyphs">the afterload; and (3) muscle contractility, i.e., the extent and velocity</text>
<text transform="translate(393.2 719.83) scale(0.872 1)" word-spacing="4.083" textLength="374.20" lengthAdjust="spacingAndGlyphs">Preload determines sarcomere length at the onset of contraction.</text>
<text transform="translate(393.2 733.26) scale(0.872 1)" word-spacing="1.586" textLength="374.20" lengthAdjust="spacingAndGlyphs">Contractile force is optimal at specific sarcomere lengths (~2.2 μm)</text>
<text transform="translate(393.2 746.69) scale(0.872 1)" word-spacing="0.445" textLength="374.20" lengthAdjust="spacingAndGlyphs">where both myofilament Ca<tspan font-size="7.5" dy="-4.2">2+</tspan><tspan dy="4.2"> </tspan>sensitivity is maximal and myofilament</text>
<text transform="translate(393.2 760.12) scale(0.872 1)" word-spacing="0.609" textLength="374.20" lengthAdjust="spacingAndGlyphs">interactions and activation of contraction are most efficient. The rela-</text>
<text transform="translate(393.2 773.55) scale(0.872 1)" word-spacing="0.051" textLength="374.20" lengthAdjust="spacingAndGlyphs">tionship between initial muscle fiber length and the developed force is</text>
<text transform="translate(393.2 786.98) scale(0.872 1)" word-spacing="0.007" textLength="374.20" lengthAdjust="spacingAndGlyphs">the basis of Starling’s law of the heart, which states that, within limits,</text>
<text transform="translate(393.2 800.41) scale(0.872 1)" word-spacing="1.452" textLength="374.20" lengthAdjust="spacingAndGlyphs">the ventricular contraction force depends on the end-diastolic length</text>
<text transform="translate(393.2 813.84) scale(0.872 1)" word-spacing="0.720" textLength="374.20" lengthAdjust="spacingAndGlyphs">of the cardiac muscle, which in vivo relates closely to the ventricular</text>
<text transform="translate(393.2 827.27) scale(0.872 1)" word-spacing="-0.900" textLength="114.11" lengthAdjust="spacingAndGlyphs">end-diastolic volume.</text>
<text transform="translate(393.2 869.80) scale(0.872 1)" word-spacing="0.430" textLength="374.20" lengthAdjust="spacingAndGlyphs">Ventricular end-diastolic or “filling” pressure can serve as a surrogate</text>
<text transform="translate(393.2 883.20) scale(0.872 1)" word-spacing="-0.212" textLength="374.20" lengthAdjust="spacingAndGlyphs">for end-diastolic volume. In isolated heart and heart-lung preparations,</text>
<text transform="translate(393.2 896.70) scale(0.872 1)" word-spacing="0.755" textLength="374.20" lengthAdjust="spacingAndGlyphs">stroke volume varies directly with the end-diastolic fiber length (pre-</text>
<text transform="translate(393.2 910.10) scale(0.872 1)" word-spacing="0.979" textLength="374.20" lengthAdjust="spacingAndGlyphs">load) and inversely with the arterial resistance (afterload), and as the</text>
<text transform="translate(393.2 923.60) scale(0.872 1)" word-spacing="-0.813" textLength="374.20" lengthAdjust="spacingAndGlyphs">heart fails—i.e., as its contractility declines—it delivers a progressively</text>
<text transform="translate(393.2 937.10) scale(0.872 1)" word-spacing="1.577" textLength="374.20" lengthAdjust="spacingAndGlyphs">smaller stroke volume from a normal or even elevated end-diastolic</text>
</g>
<g font-family="Liberation Serif,serif" font-weight="bold" xml:space="preserve">
<text x="50.6" y="853.3" font-size="16.2" fill="#8f76a0" textLength="298.2" lengthAdjust="spacingAndGlyphs">CONTROL OF CARDIAC PERFORMANCE</text>
<text x="50.6" y="869.3" font-size="16.2" fill="#8f76a0" textLength="102" lengthAdjust="spacingAndGlyphs">AND OUTPUT</text>
<rect x="393.1" y="697.2" width="9.1" height="8.8" fill="#a184ac"/>
<text x="407.3" y="706" font-size="12.8" fill="#1c1c1c" textLength="271" lengthAdjust="spacingAndGlyphs">THE ROLE OF MUSCLE LENGTH (PRELOAD)</text>
<rect x="393.1" y="846.9" width="9.1" height="8.8" fill="#a184ac"/>
<text x="407.3" y="855.7" font-size="12.8" fill="#1c1c1c" textLength="160" lengthAdjust="spacingAndGlyphs">CARDIAC PERFORMANCE</text>
</g>
<g font-family="Liberation Serif,serif" font-weight="bold">
<text x="23.7" y="41.9" font-size="9.4" fill="#111" textLength="19.2" lengthAdjust="spacingAndGlyphs">1806</text>
<text transform="translate(23.9 105.1) rotate(90)" font-size="14.4" fill="#fff" textLength="34.9" lengthAdjust="spacingAndGlyphs">PART 6</text>
<text transform="translate(23.9 168.2) rotate(90)" font-size="14.8" fill="#111" textLength="205.6" lengthAdjust="spacingAndGlyphs">Disorders of the Cardiovascular System</text>
</g>
</svg>

<svg class="abs" style="left:0;top:0" width="789" height="1010" viewBox="0 0 789 1010">
<defs>
<linearGradient id="shv" gradientUnits="userSpaceOnUse" x1="0" y1="862" x2="0" y2="928.7"><stop offset="0" stop-color="#000" stop-opacity="0"/><stop offset="1" stop-color="#000" stop-opacity="0.2"/></linearGradient>
<linearGradient id="shh" gradientUnits="userSpaceOnUse" x1="31" y1="0" x2="757" y2="0"><stop offset="0" stop-color="#000"/><stop offset="0.035" stop-color="#fff"/><stop offset="0.95" stop-color="#fff"/><stop offset="1" stop-color="#000"/></linearGradient>
<mask id="shm"><rect x="31" y="860" width="726" height="70" fill="url(#shh)"/></mask>
</defs>
<rect x="31" y="862" width="726" height="66.7" fill="url(#shv)" mask="url(#shm)"/>
<rect x="0" y="928.7" width="789" height="82" fill="#fff"/>
<path d="M83.6 955L72.8 967.6L83.6 980.2M94.2 955L83.4 967.6L94.2 980.2" fill="none" stroke="#a6a6a6" stroke-width="4.3" stroke-linejoin="miter"/>
<path d="M118.2 955.6H100.3V966.8H115.6V979.4H96.4" fill="none" stroke="#8e8e8e" stroke-width="5.2" stroke-linejoin="round"/>
<path d="M125.9 962.4V979.4H138.8V953" fill="none" stroke="#8e8e8e" stroke-width="5.2" stroke-linejoin="round"/>
<circle cx="132.4" cy="988.9" r="2.1" fill="#f7cb55"/>
<path d="M148.2 953V979.4H164.6V962.5Q164.6 956.6 170.5 956.6H174.2Q180.1 956.6 180.1 962.5V979.4H211.6V953M196 958.5V979.4" fill="none" stroke="#f7cb55" stroke-width="5.2" stroke-linejoin="round"/>
<circle cx="168.5" cy="947.3" r="2.4" fill="#8e8e8e"/><circle cx="175.7" cy="947.3" r="2.4" fill="#8e8e8e"/>
<text x="148.4" y="1002.2" direction="rtl" unicode-bidi="embed" text-anchor="middle" font-family="'Liberation Sans','DejaVu Sans',sans-serif" font-size="13.5" fill="#ababab" textLength="129" lengthAdjust="spacingAndGlyphs">فروشگاه اینترنتی کتاب</text>
<rect x="228.8" y="951.6" width="1" height="50" fill="#9a9a9a"/>
<g fill="#f9cd52"><path d="M238.8 953.8L273.2 970.1L307.5 953.8V962.1999999999999L273.2 978.5L238.8 962.1999999999999z"/><path d="M238.8 966.5L273.2 983.3L307.5 967.1V975.5L273.2 991.6999999999999L238.8 974.9z"/><path d="M238.8 980.9L273.2 997.8L307.5 979.7V988.1L273.2 1006.1999999999999L238.8 989.3z"/><rect x="238.8" y="953.8" width="7.2" height="21.1"/><rect x="300.3" y="967.1" width="7.2" height="21"/></g>
<text x="613.6" y="965.2" direction="rtl" unicode-bidi="embed" text-anchor="middle" font-family="'Liberation Sans','DejaVu Sans',sans-serif" font-size="22" fill="#111" textLength="247" lengthAdjust="spacingAndGlyphs">فروشگاه کتاب پزشکی ستابوک</text>
<g font-family="Liberation Sans,sans-serif" font-weight="bold" font-size="22.6" fill="#1a1a1a" stroke="#fff" stroke-width="0.2">
<text x="406" y="995.9" textLength="336" lengthAdjust="spacing">WWW.<tspan fill="#f5b921">S</tspan>ETA<tspan fill="#f5b921">B</tspan>OOK.COM</text>
</g>
</svg>
</body>
</html>
